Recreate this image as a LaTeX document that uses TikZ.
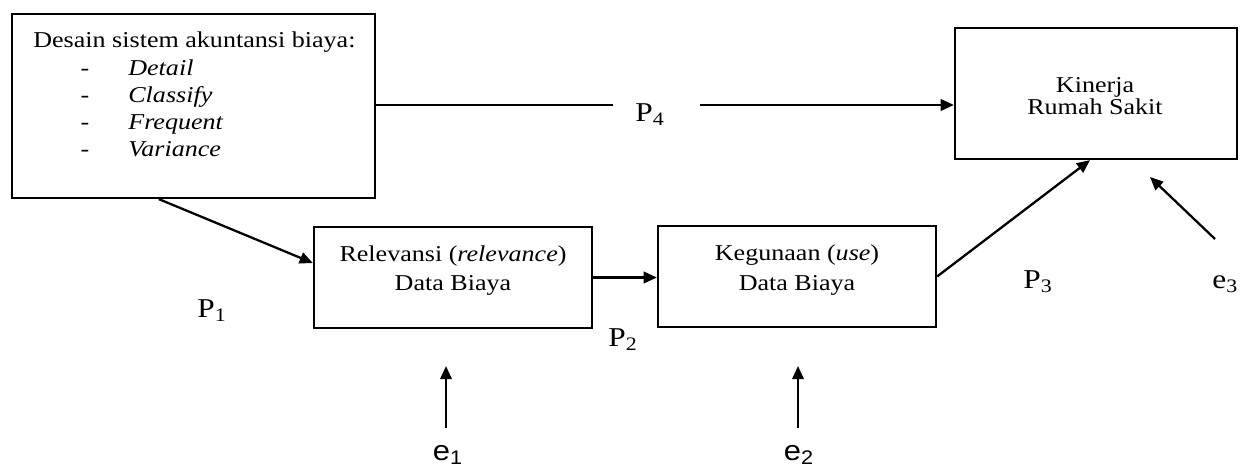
\documentclass[tikz,border=0pt]{standalone}
\usepackage{fontspec}
\setmainfont{Liberation Serif}[FakeStretch=1.15]
\newfontfamily\labsans{Liberation Sans}[FakeStretch=1.1]
\usetikzlibrary{arrows.meta}
\tikzset{
  box/.style={draw, line width=1.3pt, inner sep=0pt},
  txt/.style={font=\fontsize{12.9}{15}\selectfont, inner sep=0pt, anchor=base},
  lab/.style={font=\fontsize{15.5}{17}\selectfont, inner sep=0pt, anchor=base west},
  elab/.style={font=\labsans\fontsize{16}{18}\selectfont, inner sep=0pt, anchor=base},
  conn/.style={line width=1.3pt, -{Triangle[length=7.5pt,width=6.5pt]}},
  plain/.style={line width=1.3pt}
}
\begin{document}
\begin{tikzpicture}[x=0.02cm,y=-0.02cm]
\useasboundingbox (0,0) rectangle (1240,472);
% boxes
\node[box, minimum width=7.26cm, minimum height=3.68cm] (b1) at (193.5,106) {};
\node[box, minimum width=5.64cm, minimum height=2.62cm] (kin) at (1096,93.5) {};
\node[box, minimum width=5.56cm, minimum height=2.02cm] (rel) at (453,277.5) {};
\node[box, minimum width=5.56cm, minimum height=2.02cm] (keg) at (797,276.5) {};
% box 1 text
\node[txt, anchor=base west] (t0) at (33,48) {Desain sistem akuntansi biaya:};
\node[txt] (d1) at (85,76) {-};
\node[txt] (d2) at (85,103) {-};
\node[txt] (d3) at (85,130) {-};
\node[txt] (d4) at (85,157) {-};
\node[txt, anchor=base west] (i1) at (128,76) {\textit{Detail}};
\node[txt, anchor=base west] (i2) at (128,103) {\textit{Classify}};
\node[txt, anchor=base west] (i3) at (128,130) {\textit{Frequent}};
\node[txt, anchor=base west] (i4) at (128,157) {\textit{Variance}};
% other box texts
\node[txt] (k1) at (1095,93) {Kinerja};
\node[txt] (k2) at (1095,115) {Rumah Sakit};
\node[txt] (r1) at (453,262) {Relevansi (\textit{relevance})};
\node[txt] (r2) at (453,291) {Data Biaya};
\node[txt] (g1) at (797,261) {Kegunaan (\textit{use})};
\node[txt] (g2) at (797,291) {Data Biaya};
% labels
\node[lab] (p1) at (197,318) {P\textsubscript{1}};
\node[lab] (p2) at (608,347) {P\textsubscript{2}};
\node[lab] (p3) at (1023,289) {P\textsubscript{3}};
\node[lab] (p4) at (635,122) {P\textsubscript{4}};
\node[lab] (e3) at (1212,289) {e\textsubscript{3}};
\node[elab] (e1) at (448,460) {e\textsubscript{1}};
\node[elab] (e2) at (799,460) {e\textsubscript{2}};
% connectors
\coordinate (p4y) at (0,105);
\draw[plain] (b1.east |- p4y) -- ([xshift=-0.44cm]p4.west |- p4y);
\draw[conn] ([xshift=0.7cm]p4.east |- p4y) -- (kin.west |- p4y);
\draw[conn] ([xshift=2.96cm]b1.south west) -- ([yshift=0.29cm]rel.west);
\draw[conn] (rel.east) -- (rel.east -| keg.west);
\draw[conn] (keg.east) -- ([xshift=-0.12cm]kin.south);
\coordinate (e3s) at (1215,239);
\coordinate (e3t) at (1150,177);
\draw[conn] (e3s) -- (e3t);
\coordinate (e1s) at (446,428);
\coordinate (e1t) at (446,366);
\coordinate (e2s) at (798,428);
\coordinate (e2t) at (798,366);
\draw[conn] (e1s) -- (e1t);
\draw[conn] (e2s) -- (e2t);
\end{tikzpicture}
\end{document}
